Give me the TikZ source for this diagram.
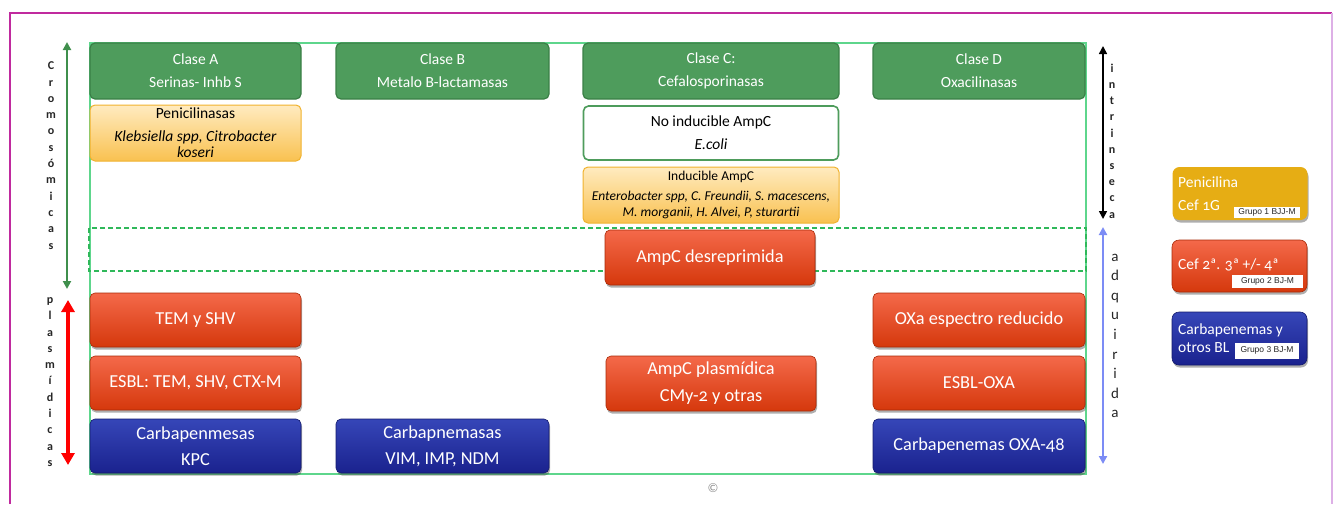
\documentclass[tikz,border=0pt]{standalone}
\usepackage{fontspec}
\setmainfont{Carlito}[Numbers=OldStyle]
\newfontfamily\arialf{Liberation Sans}
\usetikzlibrary{arrows.meta,shadows,shadings}
\definecolor{frameM}{HTML}{C02A9E}
\definecolor{frameR}{HTML}{DDB0E6}
\definecolor{outG}{HTML}{5ED68C}
\definecolor{dashG}{HTML}{2FB85A}
\definecolor{gFill}{HTML}{4E9C5C}
\definecolor{gDraw}{HTML}{3A7F46}
\definecolor{yTop}{HTML}{FFEBC0}
\definecolor{yBot}{HTML}{F9C150}
\definecolor{yDraw}{HTML}{F0B22E}
\definecolor{rTop}{HTML}{F4694A}
\definecolor{rBot}{HTML}{D5380C}
\definecolor{rDraw}{HTML}{A82A08}
\definecolor{bTop}{HTML}{3646B8}
\definecolor{bBot}{HTML}{1A228E}
\definecolor{bDraw}{HTML}{131A6C}
\definecolor{gold}{HTML}{E6AD14}
\definecolor{arrG}{HTML}{3F8F4C}
\definecolor{arrB}{HTML}{7C8CF5}
\begin{document}
\begin{tikzpicture}[x=1pt,y=-1pt,
  box/.style={rounded corners=5pt,align=center,inner sep=2pt},
  gbox/.style={box,draw=gDraw,fill=gFill,line width=1.2pt,text=white,minimum height=56pt,font=\fontsize{15.5}{23}\selectfont},
  ybox/.style={box,draw=yDraw,top color=yTop,bottom color=yBot,line width=1pt,text=black},
  wbox/.style={box,draw=gFill,fill=white,line width=1.6pt,text=black},
  shd/.style={drop shadow={shadow xshift=1pt,shadow yshift=-2.5pt,opacity=0.45,fill=black!70}},
  rbox/.style={box,shd,draw=rDraw,top color=rTop,bottom color=rBot,line width=0.6pt,text=white,minimum height=54pt,font=\fontsize{18.3}{26}\selectfont},
  bbox/.style={box,shd,draw=bDraw,top color=bTop,bottom color=bBot,line width=0.6pt,text=white,minimum height=54pt,font=\fontsize{18.3}{26}\selectfont},
  leg/.style={rounded corners=7pt,shd,minimum width=135pt},
  legtxt/.style={anchor=west,inner sep=0pt,text=white,font=\fontsize{15.5}{18}\selectfont},
  tag/.style={fill=white,inner sep=0pt,text=black!85,font=\arialf\fontsize{8.5}{10}\selectfont},
  vtxt/.style={align=center,inner sep=0pt,text=black!85}
]
\useasboundingbox (0,0) rectangle (1333,504);
% frame
\draw[frameM,line width=1.2pt] (10,504) -- (10,13) -- (1332,13);
\draw[frameR,line width=1.2pt] (1332,13) -- (1332,504);
% outer green frame and dashed band
\draw[outG,line width=1.2pt] (90,43) rectangle (1086,474);
\draw[dashG,line width=1.2pt,dash pattern=on 5pt off 3pt] (89,228) rectangle (1086,271);

% green class boxes
\node[gbox,minimum width=211pt] (ca) at (195.5,71) {Clase A\\Serinas- Inhb S};
\node[gbox,minimum width=213pt] (cb) at (442.5,71) {Clase B\\Metalo B-lactamasas};
\node[gbox,minimum width=256pt] (cc) at (711,71) {Clase C:\\Cefalosporinasas};
\node[gbox,minimum width=212pt] (cd) at (979,71) {Clase D\\Oxacilinasas};

% chromosomal
\node[ybox,minimum width=211pt,minimum height=56pt,font=\fontsize{15.5}{16.5}\selectfont] (pen) at (195.5,133)
  {Penicilinasas\\[6pt]\textit{Klebsiella spp, Citrobacter}\\\textit{koseri}};
\node[wbox,minimum width=255pt,minimum height=54pt,font=\fontsize{15.5}{23}\selectfont] (noind) at (711,133)
  {No inducible AmpC\\\textit{E.coli}};
\node[ybox,minimum width=256pt,minimum height=56pt,font=\fontsize{13.5}{16}\selectfont] (ind) at (711,195)
  {Inducible AmpC\\[4pt]\textit{Enterobacter spp, C. Freundii, S. macescens,}\\\textit{M. morganii, H. Alvei, P, sturartii}};
\node[rbox,minimum width=210pt,minimum height=55pt] (amp) at (710,257.5) {AmpC desreprimida};

% plasmid rows
\node[rbox,minimum width=211pt] (tem) at (195.5,320) {TEM y SHV};
\node[rbox,minimum width=211pt] (esbl) at (195.5,383) {ESBL: TEM, SHV, CTX-M};
\node[bbox,minimum width=211pt] (kpc) at (195.5,446) {Carbapenmesas\\KPC};
\node[bbox,minimum width=213pt] (vim) at (442.5,446) {Carbapnemasas\\VIM, IMP, NDM};
\node[rbox,minimum width=210pt,minimum height=55pt,font=\fontsize{18.3}{27}\selectfont] (ampp) at (711,383.5) {AmpC plasmídica\\CMy-2 y otras};
\node[rbox,minimum width=212pt] (oxa) at (979,320) {OXa espectro reducido};
\node[rbox,minimum width=212pt] (esoxa) at (979,383) {ESBL-OXA};
\node[bbox,minimum width=212pt] (oxa48) at (979,446) {Carbapenemas OXA-48};

% copyright mark
\node[text=black!45,inner sep=0pt,font=\fontsize{13}{14}\selectfont] (copy) at (713,488) {\textcopyright};

% left arrows and labels
\coordinate (gTop) at (67,42);
\coordinate (gBot) at (67,289);
\draw[arrG,line width=2.2pt,{Triangle[width=8pt,length=8pt]}-{Triangle[width=8pt,length=8pt]}] (gTop) -- (gBot);
\coordinate (rTopC) at (68,300);
\coordinate (rBotC) at (68,465);
\draw[red,line width=3.2pt,{Triangle[width=13pt,length=12pt]}-{Triangle[width=13pt,length=12pt]}] (rTopC) -- (rBotC);
\node[vtxt,font=\bfseries\fontsize{12}{16.3}\selectfont] (crom) at (51,155.5) {C\\r\\o\\m\\o\\s\\ó\\m\\i\\c\\a\\s};
\node[vtxt,font=\bfseries\fontsize{12}{16.3}\selectfont] (plas) at (50,382) {p\\l\\a\\s\\m\\í\\d\\i\\c\\a\\s};

% right arrows and labels
\coordinate (kTop) at (1103,46);
\coordinate (kBot) at (1103,219);
\draw[black,line width=1.6pt,{Triangle[width=8pt,length=8pt]}-{Triangle[width=8pt,length=8pt]}] (kTop) -- (kBot);
\coordinate (aTop) at (1103,227);
\coordinate (aBot) at (1103,464);
\draw[arrB,line width=2pt,{Triangle[width=8pt,length=8pt]}-{Triangle[width=8pt,length=8pt]}] (aTop) -- (aBot);
\node[vtxt,font=\bfseries\fontsize{12}{16.2}\selectfont] (intr) at (1112,141) {i\\n\\t\\r\\i\\n\\s\\e\\c\\a};
\node[vtxt,font=\fontsize{15}{19.6}\selectfont] (adq) at (1115,336) {a\\d\\q\\u\\i\\r\\i\\d\\a};

% legend
\node[leg,fill=gold,minimum height=53pt] (l1) at (1240,193.5) {};
\node[leg,draw=rDraw,line width=0.6pt,top color=rTop,bottom color=rBot,minimum height=52pt] (l2) at (1239.5,266) {};
\node[leg,draw=bDraw,line width=0.6pt,top color=bTop,bottom color=bBot,minimum height=53pt] (l3) at (1239.5,338.5) {};
\node[legtxt] (l1a) at (1178,182) {Penicilina};
\node[legtxt] (l1b) at (1178,205) {Cef 1G};
\node[legtxt] (l2a) at (1178,265) {Cef 2ª. 3ª +/- 4ª};
\node[legtxt] (l3a) at (1178,330) {Carbapenemas y};
\node[legtxt] (l3b) at (1178,348) {otros BL};
\node[tag,minimum width=66pt,minimum height=11pt] (t1) at (1267,212) {Grupo 1 BJJ-M};
\node[tag,minimum width=71pt,minimum height=13pt] (t2) at (1267.5,281.5) {Grupo 2 BJ-M};
\node[tag,minimum width=64pt,minimum height=16pt] (t3) at (1267,350.5) {Grupo 3 BJ-M};
\end{tikzpicture}
\end{document}
